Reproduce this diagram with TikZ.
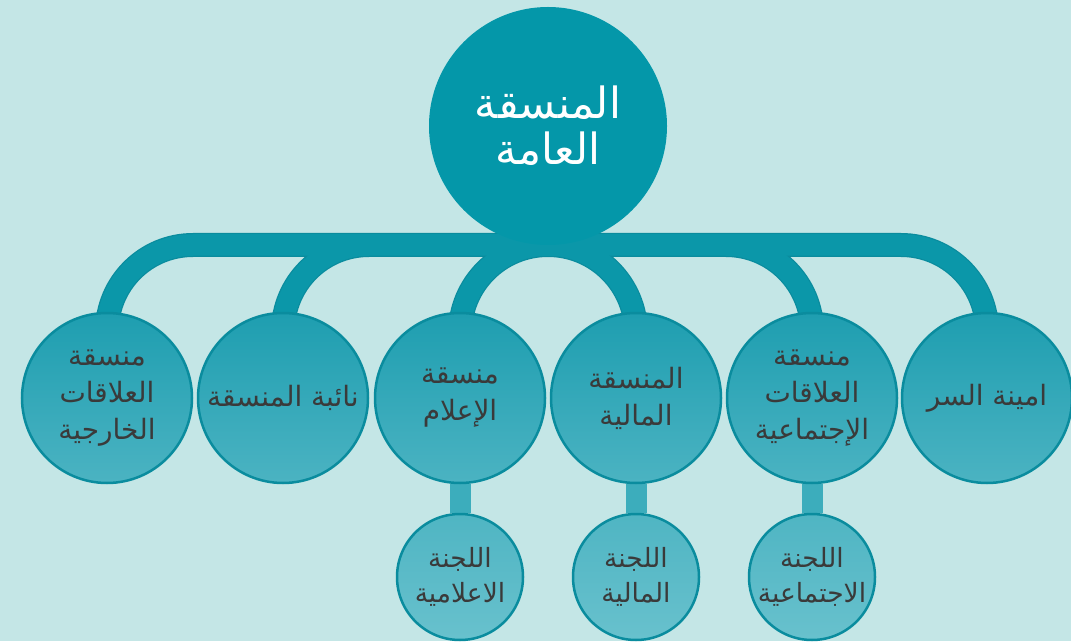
\documentclass[tikz,border=0pt]{standalone}
\usepackage{fontspec}
\usepackage{tikz}
\usetikzlibrary{backgrounds}
\TeXXeTstate=1
\newfontfamily\arabicfont[Script=Arabic]{DejaVu Sans}
\newcommand\rtltext[1]{\beginR #1\endR}

\definecolor{bgteal}{HTML}{C4E6E6}
\definecolor{headteal}{HTML}{0497A9}
\definecolor{barteal}{HTML}{0B97A9}
\definecolor{rimteal}{HTML}{0A8C9E}
\definecolor{unittop}{HTML}{1E9EB0}
\definecolor{unitbot}{HTML}{4BB3C2}
\definecolor{cmttop}{HTML}{4FB5C3}
\definecolor{cmtbot}{HTML}{68C1CD}
\definecolor{stemteal}{HTML}{3CADBC}
\definecolor{inkgray}{HTML}{3A3A3A}

\begin{document}
\begin{tikzpicture} [
    x=1pt, y=1pt,
    every node/.style = {circle, inner sep=0pt, align=center, text=inkgray},
    head/.style = {fill=headteal, minimum size=238pt, text=white,
        font=\arabicfont\fontsize{43}{46}\selectfont},
    unit/.style = {draw=rimteal, line width=2.5pt, top color=unittop,
        bottom color=unitbot, minimum size=170pt,
        font=\arabicfont\fontsize{28}{37}\selectfont},
    committee/.style = {unit, top color=cmttop, bottom color=cmtbot,
        minimum size=126pt, font=\arabicfont\fontsize{26.5}{35}\selectfont},
    link/.style = {line cap=butt}
]
    \useasboundingbox (0,0) rectangle (1071,641);

    % top
    \node [head] (head) at (548,515) {\rtltext{المنسقة}\\\rtltext{العامة}};

    % second row
    \node [unit] (c1) at (107,243) {\rtltext{منسقة}\\\rtltext{العلاقات}\\\rtltext{الخارجية}};
    \node [unit] (c2) at (283,243) {\rtltext{نائبة المنسقة}};
    \node [unit] (c3) at (460,243) {\rtltext{منسقة}\\\rtltext{الإعلام}};
    \node [unit] (c4) at (636,243) {\rtltext{المنسقة}\\\rtltext{المالية}};
    \node [unit] (c5) at (812,243) {\rtltext{منسقة}\\\rtltext{العلاقات}\\\rtltext{الإجتماعية}};
    \node [unit] (c6) at (987,243) {\rtltext{امينة السر}};

    % committees
    \node [committee] (k3) at (460,64) {\rtltext{اللجنة}\\\rtltext{الاعلامية}};
    \node [committee] (k4) at (636,64) {\rtltext{اللجنة}\\\rtltext{المالية}};
    \node [committee] (k5) at (812,64) {\rtltext{اللجنة}\\\rtltext{الاجتماعية}};

    \coordinate (busR) at (901,396);

    \begin{scope}[on background layer]
        \fill [bgteal] (0,0) rectangle (1071,641);
        \draw [link, line width=21pt, stemteal] (c3) -- (k3);
        \draw [link, line width=21pt, stemteal] (c4) -- (k4);
        \draw [link, line width=21pt, stemteal] (c5) -- (k5);
        \foreach \w/\c in {24/rimteal, 21.5/barteal} {
            \draw [link, line width=\w pt, \c] (c1) ++(0,67)
                arc[start angle=180, end angle=90, radius=86pt] -- (busR)
                arc[start angle=90, end angle=0, radius=86pt];
            \draw [link, line width=\w pt, \c] (c2) ++(0,67)
                arc[start angle=180, end angle=90, radius=86pt];
            \draw [link, line width=\w pt, \c] (c3) ++(0,65)
                arc[start angle=180, end angle=0, radius=88pt];
            \draw [link, line width=\w pt, \c] (c5) ++(0,67)
                arc[start angle=0, end angle=90, radius=86pt];
        }
    \end{scope}
\end{tikzpicture}
\end{document}
